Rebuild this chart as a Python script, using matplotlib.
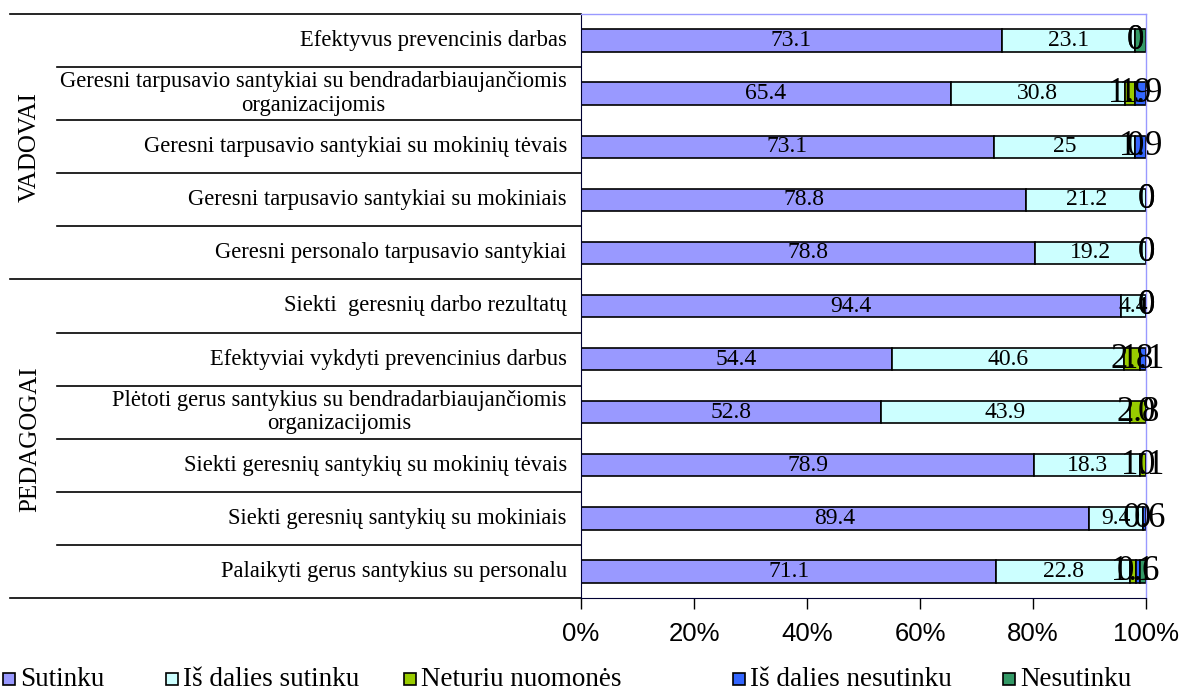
import matplotlib
matplotlib.use('Agg')
import matplotlib.pyplot as plt
from matplotlib.lines import Line2D
from matplotlib.patches import Rectangle
import numpy as np

plt.rc('font', family='serif')
plt.rc('font', serif=['Liberation Serif', 'DejaVu Serif'])

categories = [
    'Efektyvus prevencinis darbas',
    'Geresni tarpusavio santykiai su bendradarbiaujančiomis\norganizacijomis',
    'Geresni tarpusavio santykiai su mokinių tėvais',
    'Geresni tarpusavio santykiai su mokiniais',
    'Geresni personalo tarpusavio santykiai',
    'Siekti  geresnių darbo rezultatų',
    'Efektyviai vykdyti prevencinius darbus',
    'Plėtoti gerus santykius su bendradarbiaujančiomis\norganizacijomis',
    'Siekti geresnių santykių su mokinių tėvais',
    'Siekti geresnių santykių su mokiniais',
    'Palaikyti gerus santykius su personalu',
]
groups = ['VADOVAI', 'PEDAGOGAI']
group_sizes = [5, 6]

series_names = ['Sutinku', 'Iš dalies sutinku', 'Neturiu nuomonės',
                'Iš dalies nesutinku', 'Nesutinku']
sutinku = [73.1, 65.4, 73.1, 78.8, 78.8, 94.4, 54.4, 52.8, 78.9, 89.4, 71.1]
is_dalies_sutinku = [23.1, 30.8, 25, 21.2, 19.2, 4.4, 40.6, 43.9, 18.3, 9.4, 22.8]
neturiu_nuomones = [0, 1.9, 0, 0, 0, 0, 2.8, 2.8, 1.1, 0, 1.1]
is_dalies_nesutinku = [0, 1.9, 1.9, 0, 0, 0, 1.1, 0, 0, 0.6, 0.6]
nesutinku = [1.9, 0, 0, 0, 0, 0, 0, 0, 0, 0, 1.1]
colors = ['#9999ff', '#ccffff', '#99cc00', '#3366ff', '#339966']
# the last series carries no data labels in the original
show_labels = [True, True, True, True, False]

xticks = [0, 20, 40, 60, 80, 100]

W, H = 1183, 691
fig = plt.figure(figsize=(W / 100, H / 100), dpi=100)
ax = fig.add_axes([581 / W, 1 - 598 / H, (1146 - 581) / W, (598 - 14) / H])

data = np.array([sutinku, is_dalies_sutinku, neturiu_nuomones,
                 is_dalies_nesutinku, nesutinku])
totals = data.sum(axis=0)
pct = data / totals * 100
y = np.arange(len(categories))

left = np.zeros(len(categories))
for k in range(len(series_names)):
    ax.barh(y, pct[k], left=left, height=0.42, color=colors[k],
            edgecolor='black', linewidth=1.2, label=series_names[k])
    fs = 17 if k < 2 else 25
    if show_labels[k]:
        for i in range(len(categories)):
            ax.text(left[i] + pct[k][i] / 2, y[i], '{:g}'.format(data[k][i]),
                    ha='center', va='center', fontsize=fs, clip_on=False)
    left += pct[k]

ax.set_xlim(0, 100)
ax.set_ylim(len(categories) - 0.5, -0.5)
ax.set_yticks([])
ax.set_xticks(xticks)
ax.set_xticklabels(['{}%'.format(t) for t in xticks], family='Liberation Sans', fontsize=18.5)
ax.tick_params(axis='x', direction='out', length=8, width=1, pad=9, color='black')

for s in ['top', 'right']:
    ax.spines[s].set_color('#9999ff')
    ax.spines[s].set_linewidth(1)
ax.spines['left'].set_color('#000033')
ax.spines['bottom'].set_color('#000033')

# category labels
trans = ax.get_yaxis_transform()
for i, c in enumerate(categories):
    ax.text(-0.025, y[i], c, transform=trans, ha='right', va='center',
            multialignment='center', fontsize=16.3, linespacing=1.15)

# separator lines left of the plot
x_group = (10 - 581) / 565
x_inner = (57 - 581) / 565
bounds = [-0.5]
for g in group_sizes:
    bounds.append(bounds[-1] + g)
for b in np.arange(-0.5, len(categories), 1.0):
    x0 = x_group if b in bounds else x_inner
    ax.add_line(Line2D([x0, 0], [b, b], transform=trans, color='black',
                       linewidth=1.2, clip_on=False))

start = 0
for g, n in zip(groups, group_sizes):
    ax.text((30 - 581) / 565, start + (n - 1) / 2, g, transform=trans,
            rotation=90, ha='center', va='center', fontsize=18)
    start += n

# legend
leg_x = [3, 166, 404, 733, 1003]
for k, name in enumerate(series_names):
    fig.patches.append(Rectangle((leg_x[k] / W, 1 - 685 / H), 12 / W, 12 / H,
                                 transform=fig.transFigure, facecolor=colors[k],
                                 edgecolor='black', linewidth=1.2))
    fig.text((leg_x[k] + 17) / W, 1 - 679 / H, name, ha='left', va='center',
             fontsize=19.5)

fig.savefig('out.png', dpi=100)
